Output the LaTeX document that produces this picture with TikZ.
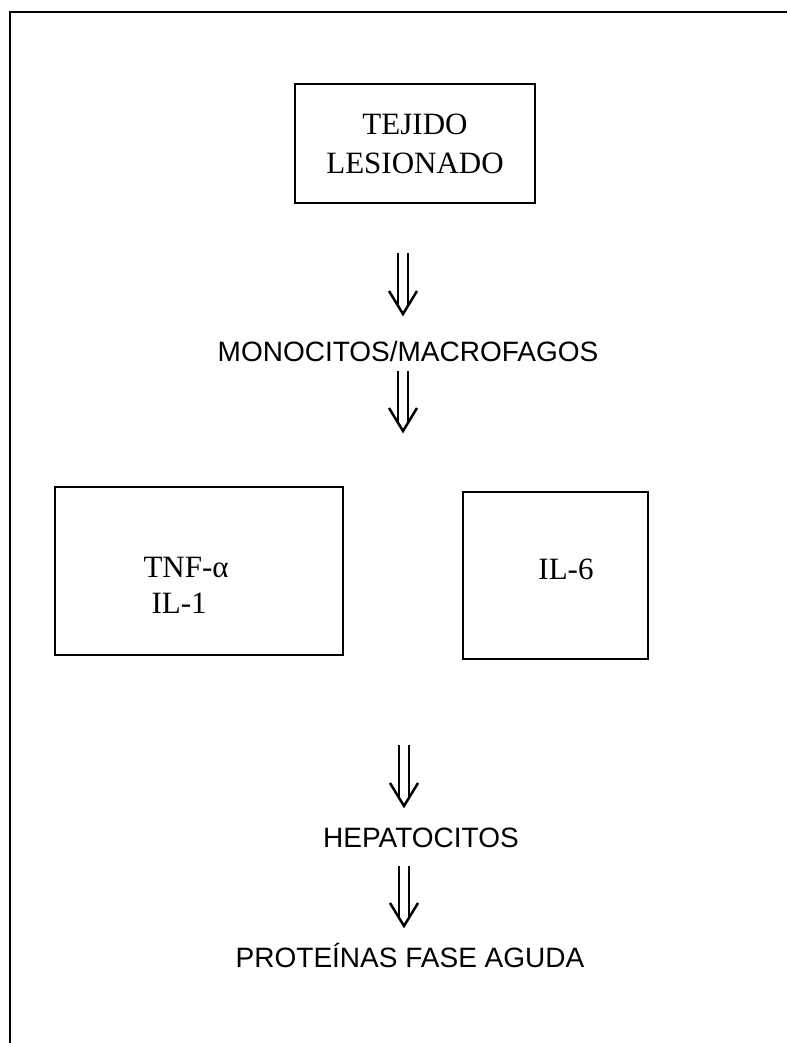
\documentclass[tikz,border=0pt]{standalone}
\usepackage{fontspec}
\setmainfont{Liberation Serif}
\setsansfont{Liberation Sans}
\usetikzlibrary{calc}

\tikzset{
	box/.style={draw, line width=1.2pt, inner sep=0pt},
	serif/.style={font=\fontsize{31}{39}\selectfont\rmfamily},
	sans/.style={font=\fontsize{28}{32}\selectfont\sffamily},
	stem/.style={line width=2.5pt},
	vhead/.style={line width=2.5pt, line join=miter}
}

\begin{document}
\begin{tikzpicture}[x=1pt, y=-1pt]
		\useasboundingbox (0, 0) rectangle (787, 1043);

		% frame
		\coordinate (fa) at (10, 1043);
		\coordinate (fb) at (10, 12);
		\coordinate (fc) at (787, 12);
		\draw[line width=2.8pt] (fa) -- (fb) -- (fc);

		% boxes
		\node[box, serif, align=center, minimum width=240pt, minimum height=119pt] (tejido) at (415, 143.5) {TEJIDO\\LESIONADO};
		\node[box, minimum width=288pt, minimum height=168pt] (left) at (199, 571) {};
		\node[box, minimum width=185pt, minimum height=167pt] (right) at (555.5, 575.5) {};

		\node[serif, anchor=base west] (tnf) at (140, 577) {TNF-α};
		\node[serif, anchor=base west] (il1) at (148, 613) {IL-1};
		\node[serif, anchor=base] (il6) at (566, 579) {IL-6};

		% texts
		\node[sans] (mono) at (408, 351) {MONOCITOS/MACROFAGOS};
		\node[sans] (hepa) at (421, 838) {HEPATOCITOS};
		\node[sans] (prot) at (410, 955) {PROTEÍNAS FASE AGUDA};

		% arrows
		\coordinate (a1) at (403, 253);
		\coordinate (b1) at (403, 314);
		\coordinate (a2) at (403, 371);
		\coordinate (b2) at (403, 431);
		\coordinate (a3) at (404, 745);
		\coordinate (b3) at (404, 806);
		\coordinate (a4) at (404, 866);
		\coordinate (b4) at (404, 926);

		\foreach \i in {1,...,4} {
			\draw[stem] ([xshift=-5pt]a\i) -- ([xshift=-5pt, yshift=9pt]b\i);
			\draw[stem] ([xshift=5pt]a\i) -- ([xshift=5pt, yshift=9pt]b\i);
			\draw[vhead] ([xshift=-14pt, yshift=23pt]b\i) -- (b\i) -- ([xshift=14pt, yshift=23pt]b\i);
		}
	\end{tikzpicture}
\end{document}
